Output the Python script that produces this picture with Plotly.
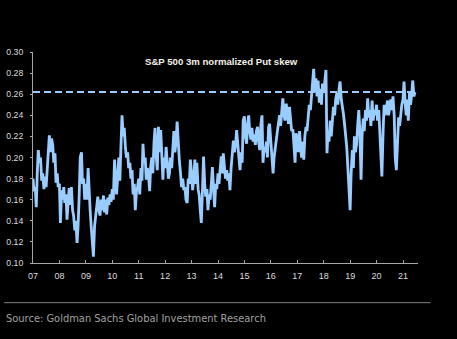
import pandas as pd
import plotly.graph_objects as go

# S&P 500 3m normalized put skew, semi-monthly observations (1st and 15th)
skew_2007 = [0.180, 0.168, 0.172, 0.153, 0.185, 0.207, 0.195, 0.200, 0.178, 0.185, 0.170, 0.182,
             0.172, 0.188, 0.200, 0.221, 0.205, 0.218, 0.212, 0.195, 0.204, 0.176, 0.185, 0.172]
skew_2008 = [0.175, 0.138, 0.169, 0.160, 0.172, 0.157, 0.165, 0.141, 0.158, 0.171, 0.155, 0.172,
             0.150, 0.145, 0.131, 0.140, 0.119, 0.135, 0.165, 0.200, 0.205, 0.175, 0.180, 0.160]
skew_2009 = [0.175, 0.160, 0.190, 0.165, 0.150, 0.135, 0.120, 0.106, 0.135, 0.144, 0.155, 0.163,
             0.150, 0.145, 0.160, 0.150, 0.164, 0.148, 0.160, 0.146, 0.162, 0.155, 0.165, 0.158]
skew_2010 = [0.170, 0.160, 0.198, 0.172, 0.165, 0.180, 0.200, 0.178, 0.205, 0.240, 0.220, 0.228,
             0.210, 0.200, 0.205, 0.190, 0.195, 0.180, 0.188, 0.165, 0.175, 0.150, 0.168, 0.172]
skew_2011 = [0.180, 0.165, 0.190, 0.178, 0.213, 0.195, 0.200, 0.179, 0.190, 0.185, 0.168, 0.191,
             0.200, 0.185, 0.215, 0.228, 0.200, 0.188, 0.229, 0.205, 0.226, 0.195, 0.179, 0.200]
skew_2012 = [0.190, 0.210, 0.195, 0.180, 0.185, 0.200, 0.190, 0.207, 0.225, 0.205, 0.215, 0.234,
             0.210, 0.198, 0.185, 0.172, 0.180, 0.169, 0.172, 0.160, 0.157, 0.180, 0.175, 0.198]
skew_2013 = [0.185, 0.169, 0.180, 0.198, 0.175, 0.195, 0.170, 0.165, 0.150, 0.138, 0.170, 0.201,
             0.175, 0.163, 0.170, 0.150, 0.165, 0.160, 0.175, 0.191, 0.170, 0.153, 0.175, 0.170]
skew_2014 = [0.185, 0.175, 0.190, 0.201, 0.185, 0.204, 0.190, 0.180, 0.188, 0.178, 0.185, 0.169,
             0.190, 0.200, 0.216, 0.205, 0.212, 0.226, 0.210, 0.200, 0.188, 0.205, 0.195, 0.235]
skew_2015 = [0.239, 0.220, 0.213, 0.232, 0.240, 0.225, 0.217, 0.228, 0.215, 0.222, 0.212, 0.225,
             0.229, 0.215, 0.207, 0.230, 0.240, 0.195, 0.210, 0.205, 0.215, 0.200, 0.229, 0.232]
skew_2016 = [0.215, 0.205, 0.185, 0.200, 0.210, 0.219, 0.225, 0.232, 0.240, 0.230, 0.245, 0.256,
             0.240, 0.235, 0.251, 0.240, 0.232, 0.248, 0.236, 0.225, 0.227, 0.210, 0.195, 0.223]
skew_2017 = [0.217, 0.205, 0.225, 0.210, 0.200, 0.215, 0.198, 0.220, 0.229, 0.225, 0.239, 0.250,
             0.245, 0.260, 0.270, 0.284, 0.262, 0.275, 0.258, 0.273, 0.252, 0.265, 0.250, 0.270]
skew_2018 = [0.262, 0.275, 0.283, 0.204, 0.225, 0.215, 0.235, 0.220, 0.235, 0.248, 0.240, 0.255,
             0.261, 0.250, 0.265, 0.272, 0.255, 0.250, 0.241, 0.232, 0.222, 0.210, 0.190, 0.175]
skew_2019 = [0.150, 0.185, 0.207, 0.190, 0.220, 0.205, 0.213, 0.230, 0.245, 0.225, 0.179, 0.220,
             0.237, 0.225, 0.245, 0.235, 0.256, 0.238, 0.245, 0.230, 0.254, 0.235, 0.245, 0.240]
skew_2020 = [0.250, 0.235, 0.245, 0.225, 0.205, 0.182, 0.225, 0.250, 0.240, 0.245, 0.254, 0.240,
             0.250, 0.255, 0.245, 0.258, 0.240, 0.200, 0.188, 0.220, 0.238, 0.230, 0.245, 0.250]
skew_2021 = [0.255, 0.272, 0.250, 0.240, 0.255, 0.235, 0.262, 0.250, 0.260, 0.273, 0.258, 0.262]

# Current level reference line
current_level = 0.262

# Axis labels
year_ticks = list(range(2007, 2022))
year_labels = [f"{y % 100:02d}" for y in year_ticks]
y_ticks = [0.10, 0.12, 0.14, 0.16, 0.18, 0.20, 0.22, 0.24, 0.26, 0.28, 0.30]

skew = (skew_2007 + skew_2008 + skew_2009 + skew_2010 + skew_2011 + skew_2012 + skew_2013
        + skew_2014 + skew_2015 + skew_2016 + skew_2017 + skew_2018 + skew_2019 + skew_2020
        + skew_2021)
dates = pd.date_range("2007-01-01", periods=len(skew), freq="SMS")

line_blue = "rgb(153,204,255)"
axis_grey = "#a6a6a6"

fig = go.Figure()

fig.add_trace(go.Scatter(
    x=[dates[0], dates[-1]], y=[current_level, current_level],
    mode="lines", line=dict(color=line_blue, width=2, dash="7px,4px"),
    hoverinfo="skip", showlegend=False,
))

fig.add_trace(go.Scatter(
    x=dates, y=skew, mode="lines",
    line=dict(color=line_blue, width=2.8),
    showlegend=False,
))

fig.update_layout(
    width=457, height=339,
    margin=dict(l=33, r=39, t=52, b=76),
    paper_bgcolor="black", plot_bgcolor="black",
    font=dict(family="Liberation Sans, Arial, sans-serif", color="#e6e6e6", size=9),
    xaxis=dict(
        range=["2007-01-01", "2021-07-27"],
        tickvals=[pd.Timestamp(f"{y}-01-01") for y in year_ticks],
        ticktext=year_labels,
        showgrid=False, zeroline=False, automargin=False,
        showline=True, linecolor=axis_grey, linewidth=1,
        ticks="inside", ticklen=3, tickcolor=axis_grey,
        ticklabelstandoff=4,
        tickfont=dict(size=9, color="#dcdcdc"),
    ),
    yaxis=dict(
        range=[0.10, 0.30],
        tickvals=y_ticks, tickformat=".2f",
        showgrid=False, zeroline=False, automargin=False,
        showline=True, linecolor=axis_grey, linewidth=1,
        ticks="outside", ticklen=2, tickcolor=axis_grey,
        ticklabelstandoff=5,
        tickfont=dict(size=8.7, color="#dcdcdc"),
    ),
    annotations=[
        dict(text="<b>S&P 500 3m normalized Put skew</b>", xref="paper", yref="paper",
             x=0.49, y=1.0, xanchor="center", yanchor="top", yshift=-2,
             showarrow=False, font=dict(size=9.6, color="#f4f1e6")),
        dict(text="Source: Goldman Sachs Global Investment Research", xref="paper", yref="paper",
             x=0, y=0, xanchor="left", yanchor="middle", xshift=-29, yshift=-55,
             showarrow=False,
             font=dict(family="Liberation Sans Narrow, DejaVu Sans Condensed, sans-serif",
                       size=11, color="#a0a0a0")),
    ],
    shapes=[
        dict(type="line", xref="paper", yref="paper", x0=-0.075, x1=1.033, y0=-0.188, y1=-0.188,
             line=dict(color="#808080", width=1)),
    ],
)

fig.write_html("out.html")
